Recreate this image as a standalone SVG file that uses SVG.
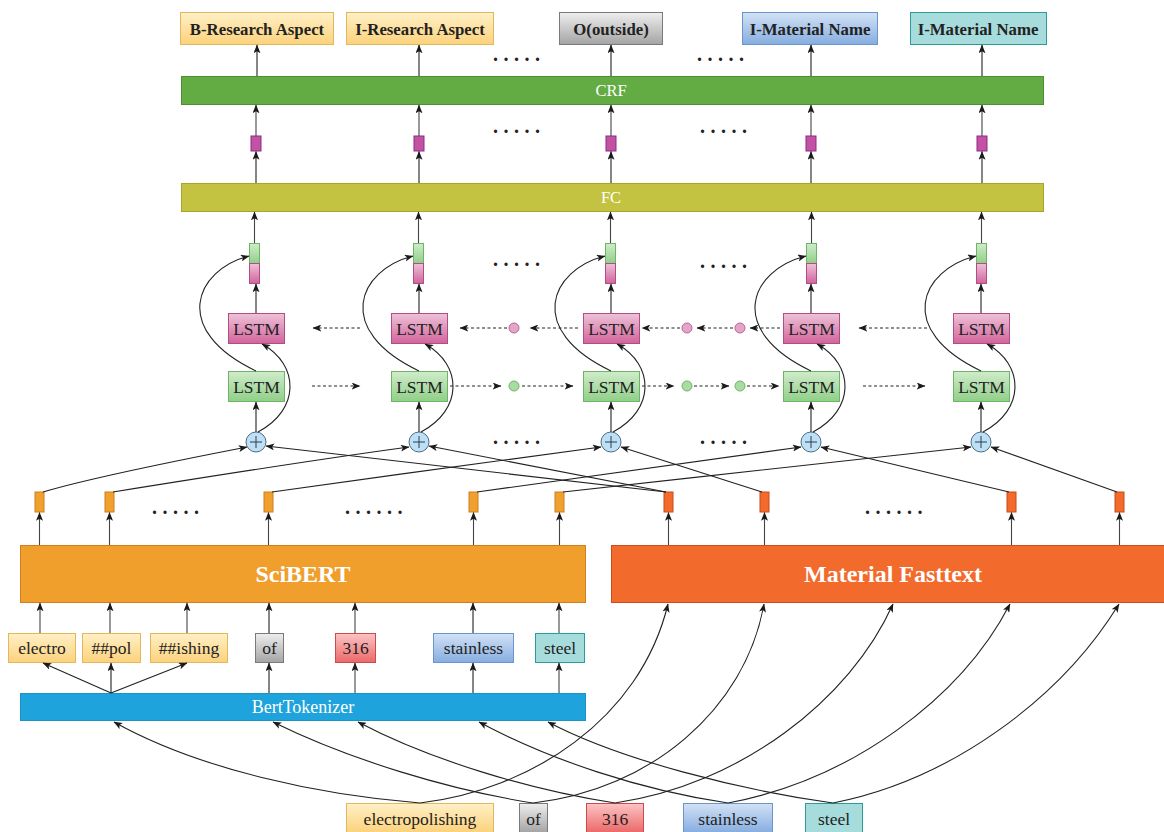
<svg xmlns="http://www.w3.org/2000/svg" width="1164" height="832" viewBox="0 0 1164 832">
  <defs>
    <linearGradient id="gYellow" x1="0" y1="0" x2="0" y2="1"><stop offset="0" stop-color="#fff0c6"/><stop offset="1" stop-color="#fcd27c"/></linearGradient>
    <linearGradient id="gGrey" x1="0" y1="0" x2="0" y2="1"><stop offset="0" stop-color="#eeeeee"/><stop offset="1" stop-color="#a4a4a4"/></linearGradient>
    <linearGradient id="gBlue" x1="0" y1="0" x2="0" y2="1"><stop offset="0" stop-color="#d2e2f5"/><stop offset="1" stop-color="#86ade0"/></linearGradient>
    <linearGradient id="gRed" x1="0" y1="0" x2="0" y2="1"><stop offset="0" stop-color="#fbc4c4"/><stop offset="1" stop-color="#ec6868"/></linearGradient>
    <linearGradient id="gGreen" x1="0" y1="0" x2="0" y2="1"><stop offset="0" stop-color="#cfecca"/><stop offset="1" stop-color="#90cf88"/></linearGradient>
    <linearGradient id="gPink" x1="0" y1="0" x2="0" y2="1"><stop offset="0" stop-color="#eec2d8"/><stop offset="1" stop-color="#d2649c"/></linearGradient>
    <marker id="ah" viewBox="0 0 10 8" refX="9.5" refY="4" markerWidth="9" markerHeight="7" orient="auto" markerUnits="userSpaceOnUse">
      <path d="M0,0 L10,4 L0,8 L2.5,4 z" fill="#1a1a1a"/>
    </marker>
  </defs>
  <style>
    text { font-family: 'Liberation Serif', 'DejaVu Serif', serif; }
    .lbl { font-weight: bold; font-size: 16.8px; fill: #222; text-anchor: middle; }
    .tok { font-size: 17.5px; fill: #222; text-anchor: middle; }
    .bar { font-size: 16.5px; fill: #fff; text-anchor: middle; }
    .big { font-weight: bold; font-size: 24px; fill: #fff; text-anchor: middle; }
    .lstm { font-size: 17.5px; fill: #222; text-anchor: middle; }
    .dots { font-weight: bold; font-size: 20px; fill: #222; letter-spacing: 5.5px; }
    .yel { fill: url(#gYellow); stroke: #e3b75c; stroke-width: 1; }
    .gry { fill: url(#gGrey); stroke: #7a7a7a; stroke-width: 1; }
    .blu { fill: url(#gBlue); stroke: #6a94cc; stroke-width: 1; }
    .tea { fill: #a7dcdc; stroke: #2e9b9b; stroke-width: 1; }
    .red { fill: url(#gRed); stroke: #c84c4c; stroke-width: 1; }
    .lg { fill: url(#gGreen); stroke: #6db466; stroke-width: 1; }
    .lp { fill: url(#gPink); stroke: #b24c84; stroke-width: 1; }
    .pur { fill: #c452a4; stroke: #8c2c84; stroke-width: 1; }
    .org { fill: #f0a02c; stroke: #cf7e1c; stroke-width: 1; }
    .ora { fill: #f26a2c; stroke: #c84a1a; stroke-width: 1; }
    .plus { fill: #bde0f6; stroke: #4f6d84; stroke-width: 1; }
    .ln { fill: none; stroke: #222; stroke-width: 1.1; marker-end: url(#ah); }
    .vl { fill: none; stroke: #444; stroke-width: 1.1; marker-end: url(#ah); }
    .ds { fill: none; stroke: #222; stroke-width: 1.1; stroke-dasharray: 3 2.5; marker-end: url(#ah); }
    .cp { fill: #e2a6c8; stroke: #c06494; stroke-width: 1; }
    .cg { fill: #a9dca2; stroke: #72b26a; stroke-width: 1; }
  </style>
  <rect width="1164" height="832" fill="#ffffff"/>

  <!-- output tags -->
  <g id="tag-b-research"><rect class="yel" x="180.5" y="12.5" width="153" height="32"/><text class="lbl" x="257" y="34.5">B-Research Aspect</text></g>
  <g id="tag-i-research"><rect class="yel" x="346.5" y="12.5" width="147" height="32"/><text class="lbl" x="420" y="34.5">I-Research Aspect</text></g>
  <g id="tag-outside"><rect class="gry" x="559.5" y="12.5" width="103" height="32"/><text class="lbl" x="611" y="34.5">O(outside)</text></g>
  <g id="tag-i-material-1"><rect class="blu" x="742.5" y="12.5" width="135" height="32"/><text class="lbl" x="810" y="34.5">I-Material Name</text></g>
  <g id="tag-i-material-2"><rect class="tea" x="910.5" y="12.5" width="136" height="32"/><text class="lbl" x="978" y="34.5">I-Material Name</text></g>

  <!-- CRF and FC layers -->
  <g id="crf"><rect x="181.5" y="76.5" width="862" height="28" fill="#63ac43" stroke="#4b8f30"/><text class="bar" x="611" y="96">CRF</text></g>
  <g id="fc"><rect x="181.5" y="183.5" width="862" height="28" fill="#c3c241" stroke="#a6a52c"/><text class="bar" x="611" y="203">FC</text></g>

  <!-- per-token emission scores -->
  <g id="scores">
    <rect class="pur" x="251" y="136" width="10" height="15"/>
    <rect class="pur" x="414" y="136" width="10" height="15"/>
    <rect class="pur" x="606" y="136" width="10" height="15"/>
    <rect class="pur" x="806" y="136" width="10" height="15"/>
    <rect class="pur" x="977" y="136" width="10" height="15"/>
  </g>

  <!-- concatenated BiLSTM states -->
  <g id="states">
    <rect class="lg" x="249.5" y="243.5" width="10" height="20"/><rect class="lp" x="249.5" y="263.5" width="10" height="20"/>
    <rect class="lg" x="413.5" y="243.5" width="10" height="20"/><rect class="lp" x="413.5" y="263.5" width="10" height="20"/>
    <rect class="lg" x="605.5" y="243.5" width="10" height="20"/><rect class="lp" x="605.5" y="263.5" width="10" height="20"/>
    <rect class="lg" x="806.5" y="243.5" width="10" height="20"/><rect class="lp" x="806.5" y="263.5" width="10" height="20"/>
    <rect class="lg" x="976.5" y="243.5" width="10" height="20"/><rect class="lp" x="976.5" y="263.5" width="10" height="20"/>
  </g>

  <!-- backward LSTM cells -->
  <g id="lstm-bwd">
    <rect class="lp" x="228.5" y="313.5" width="56" height="30"/><text class="lstm" x="256.5" y="334.5">LSTM</text>
    <rect class="lp" x="391.5" y="313.5" width="56" height="30"/><text class="lstm" x="419.5" y="334.5">LSTM</text>
    <rect class="lp" x="583.5" y="313.5" width="56" height="30"/><text class="lstm" x="611.5" y="334.5">LSTM</text>
    <rect class="lp" x="783.5" y="313.5" width="56" height="30"/><text class="lstm" x="811.5" y="334.5">LSTM</text>
    <rect class="lp" x="953.5" y="313.5" width="56" height="30"/><text class="lstm" x="981.5" y="334.5">LSTM</text>
    <circle class="cp" cx="514" cy="328" r="5"/>
    <circle class="cp" cx="687" cy="328" r="5"/>
    <circle class="cp" cx="740" cy="328" r="5"/>
  </g>

  <!-- forward LSTM cells -->
  <g id="lstm-fwd">
    <rect class="lg" x="228.5" y="371.5" width="56" height="30"/><text class="lstm" x="256.5" y="392.5">LSTM</text>
    <rect class="lg" x="391.5" y="371.5" width="56" height="30"/><text class="lstm" x="419.5" y="392.5">LSTM</text>
    <rect class="lg" x="583.5" y="371.5" width="56" height="30"/><text class="lstm" x="611.5" y="392.5">LSTM</text>
    <rect class="lg" x="783.5" y="371.5" width="56" height="30"/><text class="lstm" x="811.5" y="392.5">LSTM</text>
    <rect class="lg" x="953.5" y="371.5" width="56" height="30"/><text class="lstm" x="981.5" y="392.5">LSTM</text>
    <circle class="cg" cx="514" cy="386" r="5"/>
    <circle class="cg" cx="687" cy="386" r="5"/>
    <circle class="cg" cx="740" cy="386" r="5"/>
  </g>

  <!-- concatenation nodes -->
  <g id="concat">
    <g><circle class="plus" cx="256" cy="442" r="10"/><path d="M250,442 h12 M256,436 v12" stroke="#2c3e4c" stroke-width="1"/></g>
    <g><circle class="plus" cx="419" cy="442" r="10"/><path d="M413,442 h12 M419,436 v12" stroke="#2c3e4c" stroke-width="1"/></g>
    <g><circle class="plus" cx="611" cy="442" r="10"/><path d="M605,442 h12 M611,436 v12" stroke="#2c3e4c" stroke-width="1"/></g>
    <g><circle class="plus" cx="811" cy="442" r="10"/><path d="M805,442 h12 M811,436 v12" stroke="#2c3e4c" stroke-width="1"/></g>
    <g><circle class="plus" cx="981" cy="442" r="10"/><path d="M975,442 h12 M981,436 v12" stroke="#2c3e4c" stroke-width="1"/></g>
  </g>

  <!-- embedding vectors -->
  <g id="sciBERT-vectors">
    <rect class="org" x="35" y="492" width="9" height="20"/>
    <rect class="org" x="105" y="492" width="9" height="20"/>
    <rect class="org" x="264" y="492" width="9" height="20"/>
    <rect class="org" x="469" y="492" width="9" height="20"/>
    <rect class="org" x="555" y="492" width="9" height="20"/>
  </g>
  <g id="fasttext-vectors">
    <rect class="ora" x="664" y="492" width="9" height="20"/>
    <rect class="ora" x="760" y="492" width="9" height="20"/>
    <rect class="ora" x="1007" y="492" width="9" height="20"/>
    <rect class="ora" x="1115" y="492" width="9" height="20"/>
  </g>

  <!-- encoders -->
  <g id="scibert"><rect x="20.5" y="545.5" width="565" height="57" fill="#f09e2c" stroke="#d07e1e"/><text class="big" x="303" y="582">SciBERT</text></g>
  <g id="material-fasttext"><rect x="611.5" y="545.5" width="560" height="57" fill="#f26a2c" stroke="#cc4c1c"/><text class="big" x="893" y="582">Material Fasttext</text></g>

  <!-- sub-word tokens -->
  <g id="subword-tokens">
    <g><rect class="yel" x="8.5" y="633.5" width="67" height="29"/><text class="tok" x="42" y="653.5">electro</text></g>
    <g><rect class="yel" x="82.5" y="633.5" width="58" height="29"/><text class="tok" x="111.5" y="653.5">##pol</text></g>
    <g><rect class="yel" x="150.5" y="633.5" width="77" height="29"/><text class="tok" x="189" y="653.5">##ishing</text></g>
    <g><rect class="gry" x="255.5" y="633.5" width="28" height="29"/><text class="tok" x="269.5" y="653.5">of</text></g>
    <g><rect class="red" x="335.5" y="633.5" width="40" height="29"/><text class="tok" x="355.5" y="653.5">316</text></g>
    <g><rect class="blu" x="433.5" y="633.5" width="80" height="29"/><text class="tok" x="473.5" y="653.5">stainless</text></g>
    <g><rect class="tea" x="535.5" y="633.5" width="49" height="29"/><text class="tok" x="560" y="653.5">steel</text></g>
  </g>

  <g id="bert-tokenizer"><rect x="20.5" y="693.5" width="565" height="27" fill="#1ea3dc" stroke="#1a93c8"/><text class="bar" x="303" y="713" style="font-size:18px">BertTokenizer</text></g>

  <!-- input words -->
  <g id="input-words">
    <g><rect class="yel" x="346.5" y="803.5" width="147" height="29"/><text class="tok" x="420" y="824.5">electropolishing</text></g>
    <g><rect class="gry" x="519.5" y="803.5" width="28" height="29"/><text class="tok" x="533.5" y="824.5">of</text></g>
    <g><rect class="red" x="586.5" y="803.5" width="57" height="29"/><text class="tok" x="615" y="824.5">316</text></g>
    <g><rect class="blu" x="683.5" y="803.5" width="89" height="29"/><text class="tok" x="728" y="824.5">stainless</text></g>
    <g><rect class="tea" x="805.5" y="803.5" width="57" height="29"/><text class="tok" x="834" y="824.5">steel</text></g>
  </g>

  <!-- ellipses between repeated columns -->
  <g id="ellipses">
    <text class="dots" x="493" y="61">.....</text>
    <text class="dots" x="697" y="61">.....</text>
    <text class="dots" x="493" y="133">.....</text>
    <text class="dots" x="700" y="133">.....</text>
    <text class="dots" x="493" y="266">.....</text>
    <text class="dots" x="700" y="268">.....</text>
    <text class="dots" x="493" y="444">.....</text>
    <text class="dots" x="700" y="444">.....</text>
    <text class="dots" x="152" y="514">.....</text>
    <text class="dots" x="345" y="514">......</text>
    <text class="dots" x="865" y="514">......</text>
  </g>

  <g id="connectors">
    <!-- CRF to tags -->
    <path class="ln" d="M257,76 V45"/>
    <path class="ln" d="M419,76 V45"/>
    <path class="ln" d="M611,76 V45"/>
    <path class="ln" d="M811,76 V45"/>
    <path class="ln" d="M982,76 V45"/>
    <!-- scores to CRF -->
    <path class="vl" d="M256,136 V105"/>
    <path class="vl" d="M419,136 V105"/>
    <path class="vl" d="M611,136 V105"/>
    <path class="vl" d="M811,136 V105"/>
    <path class="vl" d="M982,136 V105"/>
    <!-- FC to scores -->
    <path class="ln" d="M256,183 V151.5"/>
    <path class="ln" d="M419,183 V151.5"/>
    <path class="ln" d="M611,183 V151.5"/>
    <path class="ln" d="M811,183 V151.5"/>
    <path class="ln" d="M982,183 V151.5"/>
    <!-- states to FC -->
    <path class="vl" d="M254.5,243 V212"/>
    <path class="vl" d="M418.5,243 V212"/>
    <path class="vl" d="M610.5,243 V212"/>
    <path class="vl" d="M811.5,243 V212"/>
    <path class="vl" d="M981.5,243 V212"/>
    <!-- backward LSTM to state -->
    <path class="ln" d="M256,313 V284"/>
    <path class="ln" d="M419,313 V284"/>
    <path class="ln" d="M611,313 V284"/>
    <path class="ln" d="M811,313 V284"/>
    <path class="ln" d="M981,313 V284"/>
    <!-- forward LSTM to state (curved) -->
    <path class="ln" d="M256,371 C170,330 195,270 249,256"/>
    <path class="ln" d="M419,371 C333,330 358,270 413,256"/>
    <path class="ln" d="M611,371 C525,330 550,270 605,256"/>
    <path class="ln" d="M811,371 C725,330 750,270 806,256"/>
    <path class="ln" d="M981,371 C895,330 920,270 976,256"/>
    <!-- concat to forward LSTM -->
    <path class="ln" d="M256,432 V402"/>
    <path class="ln" d="M419,432 V402"/>
    <path class="ln" d="M611,432 V402"/>
    <path class="ln" d="M811,432 V402"/>
    <path class="ln" d="M981,432 V402"/>
    <!-- concat to backward LSTM (curved) -->
    <path class="ln" d="M258,432 C300,410 300,365 262,344"/>
    <path class="ln" d="M421,432 C463,410 463,365 425,344"/>
    <path class="ln" d="M613,432 C655,410 655,365 617,344"/>
    <path class="ln" d="M813,432 C855,410 855,365 817,344"/>
    <path class="ln" d="M983,432 C1025,410 1025,365 987,344"/>
    <!-- recurrent links, backward -->
    <path class="ds" d="M360,328 H313"/>
    <path class="ds" d="M507,328 H460"/>
    <path class="ds" d="M578,328 H530"/>
    <path class="ds" d="M680,328 H642"/>
    <path class="ds" d="M733,328 H697"/>
    <path class="ds" d="M780,328 H750"/>
    <path class="ds" d="M927,328 H859"/>
    <!-- recurrent links, forward -->
    <path class="ds" d="M312,386 H360"/>
    <path class="ds" d="M450,386 H501"/>
    <path class="ds" d="M522,386 H573"/>
    <path class="ds" d="M642,386 H674"/>
    <path class="ds" d="M694,386 H729"/>
    <path class="ds" d="M747,386 H779"/>
    <path class="ds" d="M863,386 H925"/>
    <!-- SciBERT vectors to concat -->
    <path class="ln" d="M43,492 C90,478 180,460 247,447"/>
    <path class="ln" d="M113,492 C200,478 320,459 409,447"/>
    <path class="ln" d="M272,492 C380,477 500,460 601,447"/>
    <path class="ln" d="M477,492 C590,477 700,460 801,447"/>
    <path class="ln" d="M563,492 C700,477 850,460 971,447"/>
    <!-- Fasttext vectors to concat -->
    <path class="ln" d="M666,492 L266,446"/>
    <path class="ln" d="M666,492 L429,446"/>
    <path class="ln" d="M762,492 L621,447"/>
    <path class="ln" d="M1009,492 L821,447"/>
    <path class="ln" d="M1117,492 L991,447"/>
    <!-- encoders to vectors -->
    <path class="vl" d="M39.5,545 V512.5"/>
    <path class="vl" d="M109.5,545 V512.5"/>
    <path class="vl" d="M268.5,545 V512.5"/>
    <path class="vl" d="M473.5,545 V512.5"/>
    <path class="vl" d="M559.5,545 V512.5"/>
    <path class="vl" d="M668.5,545 V512.5"/>
    <path class="vl" d="M764.5,545 V512.5"/>
    <path class="vl" d="M1011.5,545 V512.5"/>
    <path class="vl" d="M1119.5,545 V512.5"/>
    <!-- sub-word tokens to SciBERT -->
    <path class="vl" d="M40,633 V603"/>
    <path class="vl" d="M110,633 V603"/>
    <path class="vl" d="M187,633 V603"/>
    <path class="ln" d="M269,633 V603"/>
    <path class="vl" d="M355,633 V603"/>
    <path class="ln" d="M473,633 V603"/>
    <path class="vl" d="M559,633 V603"/>
    <!-- tokenizer to sub-word tokens -->
    <path class="ln" d="M111,693 L43,663"/>
    <path class="ln" d="M111,693 V663"/>
    <path class="ln" d="M111,693 L187,663"/>
    <path class="ln" d="M269,693 V663"/>
    <path class="vl" d="M355,693 V663"/>
    <path class="ln" d="M473,693 V663"/>
    <path class="vl" d="M559,693 V663"/>
    <!-- input words to tokenizer -->
    <path class="ln" d="M420,803 C320,795 200,770 114,722"/>
    <path class="ln" d="M533,803 C450,790 350,760 273,722"/>
    <path class="ln" d="M615,803 C530,790 430,760 358,722"/>
    <path class="ln" d="M728,803 C640,790 550,760 479,722"/>
    <path class="ln" d="M833,803 C740,790 620,760 548,722"/>
    <!-- input words to Fasttext -->
    <path class="ln" d="M420,803 C530,790 640,720 668,604"/>
    <path class="ln" d="M533,803 C650,790 745,710 764,604"/>
    <path class="ln" d="M615,803 C740,785 850,700 893,604"/>
    <path class="ln" d="M728,803 C850,780 960,700 1010,604"/>
    <path class="ln" d="M833,803 C950,780 1060,700 1119,604"/>
  </g>
</svg>
